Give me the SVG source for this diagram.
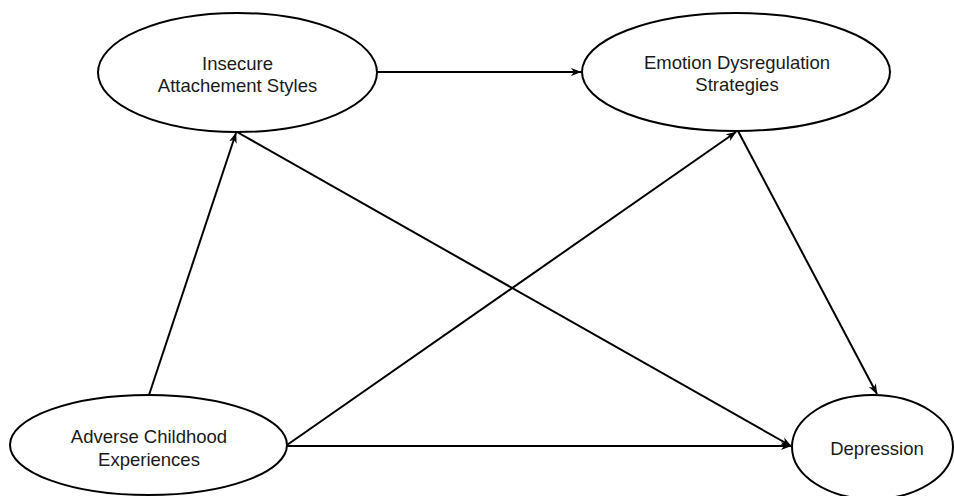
<svg xmlns="http://www.w3.org/2000/svg" width="954" height="496" viewBox="0 0 954 496">
<style>
.node ellipse{fill:#fff;stroke:#000;stroke-width:2}
.node text{font-family:"Liberation Sans",Arial,sans-serif;font-size:18.5px;fill:#1a1a1a;text-anchor:middle}
.edges line{stroke:#000;stroke-width:2;marker-end:url(#arr)}
</style>
<defs>
<marker id="arr" viewBox="0 0 11 9" refX="10" refY="4.5" markerWidth="11" markerHeight="9" markerUnits="userSpaceOnUse" orient="auto">
<path d="M0,0.5 L10.5,4.5 L0,8.5 L3,4.5 z" fill="#000"/>
</marker>
</defs>
<rect width="954" height="496" fill="#fff"/>
<g class="edges">
<line x1="377" y1="72" x2="581" y2="72"/>
<line x1="149" y1="395" x2="236" y2="133"/>
<line x1="287" y1="445" x2="736" y2="132"/>
<line x1="287" y1="446" x2="791" y2="446"/>
<line x1="237" y1="132" x2="791" y2="446"/>
<line x1="738" y1="131" x2="877" y2="394"/>
</g>
<g id="insecure" class="node">
<ellipse cx="237.5" cy="72.5" rx="139.5" ry="59.5"/>
<text x="237.5" y="69.5">Insecure</text>
<text x="237.5" y="91.5">Attachement Styles</text>
</g>
<g id="emotion" class="node">
<ellipse cx="736" cy="72" rx="154" ry="59"/>
<text x="737" y="69">Emotion Dysregulation</text>
<text x="737" y="91">Strategies</text>
</g>
<g id="adverse" class="node">
<ellipse cx="148.5" cy="445" rx="138.5" ry="50"/>
<text x="149" y="443">Adverse Childhood</text>
<text x="149" y="466">Experiences</text>
</g>
<g id="depression" class="node">
<ellipse cx="872.5" cy="447" rx="80.5" ry="52"/>
<text x="877" y="455">Depression</text>
</g>
</svg>
